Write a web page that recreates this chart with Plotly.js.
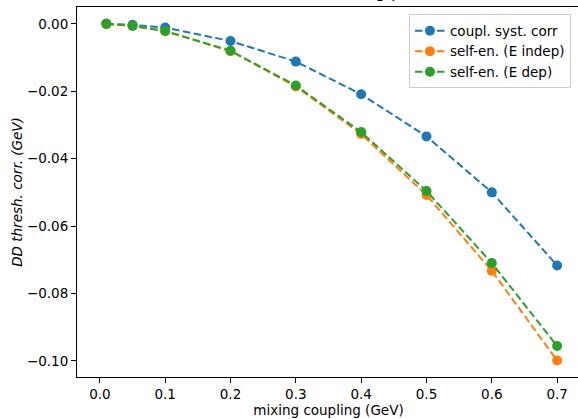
<!DOCTYPE html>
<html>
<head>
<meta charset="utf-8">
<script src="https://cdn.plot.ly/plotly-3.0.1.min.js"></script>
<style>
html, body { margin: 0; padding: 0; overflow: hidden; background: #fff; width: 578px; height: 419px; }
#chart { position: absolute; left: 0; top: -30px; width: 600px; height: 449px; }
</style>
</head>
<body>
<div id="chart"></div>
<script>
const xValues = [0.01, 0.05, 0.1, 0.2, 0.3, 0.4, 0.5, 0.6, 0.7];
const couplSyst = [0.0, -0.0003, -0.0011, -0.0051, -0.0112, -0.0209, -0.0334, -0.0500, -0.0717];
const selfEnIndep = [0.0, -0.0006, -0.0022, -0.0081, -0.0186, -0.0327, -0.0508, -0.0733, -0.0999];
const selfEnDep = [0.0, -0.0006, -0.0021, -0.0080, -0.0183, -0.0321, -0.0496, -0.0710, -0.0956];
const seriesNames = ["coupl. syst. corr", "self-en. (E indep)", "self-en. (E dep)"];
const seriesColors = ["#1f77b4", "#ff7f0e", "#2ca02c"];
const xTicks = [0.0, 0.1, 0.2, 0.3, 0.4, 0.5, 0.6, 0.7];
const yTicks = [0.0, -0.02, -0.04, -0.06, -0.08, -0.10];

const allY = [couplSyst, selfEnIndep, selfEnDep];
const traces = allY.map((ys, i) => ({
  x: xValues, y: ys, name: seriesNames[i], type: 'scatter', mode: 'lines+markers',
  line: { color: seriesColors[i], width: 2, dash: '7.5px,3.5px' },
  marker: { color: seriesColors[i], size: 10 }
}));

const font = { family: 'DejaVu Sans', size: 13.5, color: '#000' };
const layout = {
  width: 600, height: 449,
  margin: { l: 77, r: 20, t: 37, b: 42 },
  paper_bgcolor: '#fff', plot_bgcolor: '#fff',
  font: font,
  showlegend: true,
  title: {
    text: 'DD thresh. vs mixing param',
    font: { family: 'DejaVu Sans', size: 16.5, color: '#000' },
    x: 0.5, xref: 'paper', xanchor: 'center',
    y: 1, yref: 'paper', yanchor: 'bottom', pad: { b: 9 }
  },
  xaxis: {
    range: [-0.035, 0.735], tickvals: xTicks, ticktext: xTicks.map(v => v.toFixed(1)),
    ticks: 'outside', ticklen: 5, tickwidth: 1, tickcolor: '#000',
    showline: true, linecolor: '#000', linewidth: 1, mirror: true,
    showgrid: false, zeroline: false,
    tickfont: font,
    title: { text: 'mixing coupling (GeV)', font: font, standoff: 4 }
  },
  yaxis: {
    range: [-0.1048, 0.0050], tickvals: yTicks, ticktext: yTicks.map(v => (v < 0 ? '\u2212' : '') + Math.abs(v).toFixed(2)),
    ticks: 'outside', ticklen: 5, tickwidth: 1, tickcolor: '#000',
    showline: true, linecolor: '#000', linewidth: 1, mirror: true,
    showgrid: false, zeroline: false,
    tickfont: font,
    title: { text: '<i>DD thresh. corr. (GeV)</i>', font: font, standoff: 1 }
  },
  legend: {
    x: 0.982, y: 0.98, xanchor: 'right', yanchor: 'top',
    bgcolor: 'rgba(255,255,255,0.8)', bordercolor: '#cccccc', borderwidth: 1,
    font: { family: 'DejaVu Sans', size: 13.5, color: '#000' },
    itemwidth: 30, tracegroupgap: 0
  }
};

Plotly.newPlot('chart', traces, layout, { displayModeBar: false, staticPlot: true });
</script>
</body>
</html>
